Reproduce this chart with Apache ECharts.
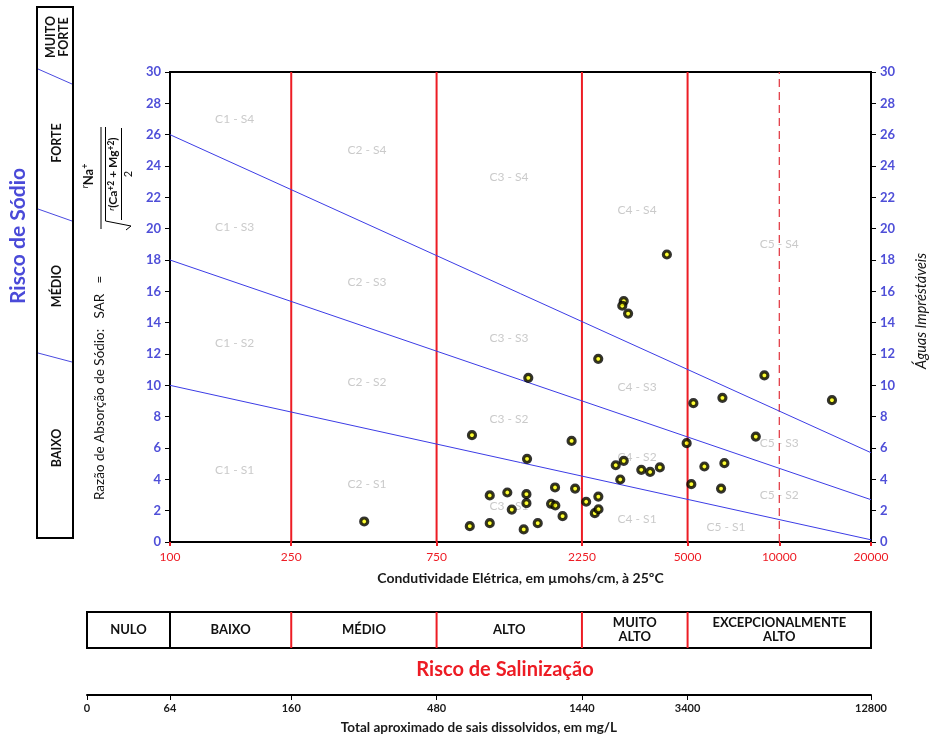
<!DOCTYPE html>
<html><head><meta charset="utf-8">
<script src="https://cdn.jsdelivr.net/npm/echarts@6/dist/echarts.min.js"></script>
<style>html,body{margin:0;padding:0;background:#fff}#c{width:931px;height:742px}</style>
</head><body><div id="c"></div>
<script>
// ---- data ----
const ecTicks = [100, 250, 750, 2250, 5000, 10000, 20000];
const salinityBounds = [250, 750, 2250, 5000];
const dashedBound = 10000;
const sarRange = [0, 30];
const sodiumLineLeft = [10, 18, 26];      // SAR at EC = 100
const sodiumLineRight = [0.14, 2.7, 5.7]; // SAR at EC = 20000
const sampleEC = [434, 964, 980, 1121, 1121, 1280, 1324, 1449, 1479, 1479, 1486, 1500, 1611, 1782, 1836, 1840, 1944, 2081, 2137, 2323, 2480, 2547, 2550, 2545, 2905, 3006, 3086, 3086, 3052, 3189, 3524, 3767, 4054, 4276, 4965, 5143, 5224, 5677, 6440, 6506, 6604, 8373, 8934, 14890];
const sampleSAR = [1.31, 1.01, 6.82, 2.97, 1.20, 3.16, 2.07, 0.80, 3.05, 2.48, 5.31, 10.48, 1.20, 2.44, 3.48, 2.33, 1.65, 6.45, 3.41, 2.57, 1.84, 2.90, 2.09, 11.69, 4.90, 3.99, 5.18, 15.38, 15.08, 14.58, 4.61, 4.47, 4.76, 18.35, 6.31, 3.69, 8.86, 4.82, 3.41, 9.20, 5.03, 6.73, 10.63, 9.05];
const zoneNames = ['C1 - S4','C1 - S3','C1 - S2','C1 - S1','C2 - S4','C2 - S3','C2 - S2','C2 - S1','C3 - S4','C3 - S3','C3 - S2','C3 - S1','C4 - S4','C4 - S3','C4 - S2','C4 - S1','C5 - S4','C5 - S3','C5 - S2','C5 - S1'];
const zoneEC  = [163, 163, 163, 163, 443, 443, 443, 443, 1297, 1297, 1297, 1297, 3413, 3413, 3413, 3413, 10000, 10000, 10000, 6683];
const zoneSAR = [26.97, 20.07, 12.67, 4.56, 24.99, 16.6, 10.22, 3.67, 23.27, 12.99, 7.82, 2.27, 21.16, 9.86, 5.39, 1.44, 18.99, 6.29, 2.97, 0.93];
const salinityClasses = ['NULO', 'BAIXO', 'MÉDIO', 'ALTO', 'MUITO\nALTO', 'EXCEPCIONALMENTE\nALTO'];
const salinityEdgesEC = [53.4, 100, 250, 750, 2250, 5000, 20000];
const tdsTicks = [0, 64, 160, 480, 1440, 3400, 12800];
const sodiumClasses = ['MUITO\nFORTE', 'FORTE', 'MÉDIO', 'BAIXO'];

// ---- build ----
const L = Math.log10;
const FONT = 'Lato';
const RED = '#ed1c24';
const BLUE = '#4f4fd8';
const chart = echarts.init(document.getElementById('c'), null, {renderer: 'canvas'});

function tickFmt(arrLog, labels) {
  return function (v) {
    let best = 0, d = 1e9;
    arrLog.forEach((a, i) => { if (Math.abs(a - v) < d) { d = Math.abs(a - v); best = i; } });
    return String(labels[best]);
  };
}
const ecLog = ecTicks.map(L);
const tdsLog = salinityEdgesEC.map(L);

const yAxisCommon = {
  type: 'value', min: sarRange[0], max: sarRange[1], interval: 2, gridIndex: 0,
  axisLine: {show: true, lineStyle: {color: '#000', width: 2}},
  axisTick: {show: true, length: 5, lineStyle: {color: '#000'}},
  axisLabel: {color: BLUE, fontWeight: 'bold', fontSize: 13, fontFamily: FONT, margin: 9},
  splitLine: {show: false}
};

const series = [];
// boundaries (red vertical)
salinityBounds.forEach(b => {
  series.push({
    type: 'line', xAxisIndex: 0, yAxisIndex: 0, silent: true, symbol: 'none', z: 2, animation: false,
    lineStyle: {color: RED, width: 2, type: 'solid'},
    data: [[L(b), sarRange[0]], [L(b), sarRange[1]]]
  });
});
series.push({
  type: 'line', xAxisIndex: 0, yAxisIndex: 0, silent: true, symbol: 'none', z: 2, animation: false,
  lineStyle: {color: '#e0303a', width: 1.2, type: [8, 5]},
  data: [[L(dashedBound), sarRange[0]], [L(dashedBound), sarRange[1]]]
});
// sodium boundary lines
sodiumLineLeft.forEach((v, i) => {
  series.push({
    type: 'line', xAxisIndex: 0, yAxisIndex: 0, silent: true, symbol: 'none', z: 3,
    lineStyle: {color: '#3c3ce6', width: 1}, animation: false,
    data: [[L(ecTicks[0]), v], [L(ecTicks[ecTicks.length - 1]), sodiumLineRight[i]]]
  });
});
// zone labels
series.push({
  type: 'scatter', xAxisIndex: 0, yAxisIndex: 0, symbolSize: 0, silent: true, z: 1,
  data: zoneNames.map((n, i) => ({name: n, value: [L(zoneEC[i]), zoneSAR[i]]})),
  label: {show: true, position: 'inside', formatter: p => p.name, color: '#bdbdbd', fontSize: 12, fontFamily: FONT}
});
// samples
series.push({
  type: 'scatter', xAxisIndex: 0, yAxisIndex: 0, symbol: 'circle', symbolSize: 7, z: 5,
  itemStyle: {color: '#ffff00', borderColor: '#000', borderWidth: 3.2},
  data: sampleEC.map((e, i) => [L(e), sampleSAR[i]])
});

chart.setOption({
  animation: false,
  backgroundColor: '#fff',
  grid: [
    {left: 170, right: 60, top: 72, bottom: 200, show: true, borderColor: '#000', borderWidth: 2, backgroundColor: 'transparent'},
    {left: 87, right: 60, top: 694, height: 1, show: false}
  ],
  xAxis: [
    {
      type: 'value', gridIndex: 0, min: L(ecTicks[0]), max: L(ecTicks[ecTicks.length - 1]),
      axisLine: {show: true, lineStyle: {color: '#000', width: 2}},
      axisTick: {show: true, customValues: ecLog, length: 4, lineStyle: {color: RED, width: 2}},
      axisLabel: {customValues: ecLog, formatter: tickFmt(ecLog, ecTicks), color: RED, fontSize: 12, fontFamily: FONT, margin: 9},
      splitLine: {show: false},
      name: 'Condutividade Elétrica, em µmohs/cm, à 25ºC', nameLocation: 'middle', nameGap: 29,
      nameTextStyle: {fontSize: 14, fontWeight: 'bold', fontFamily: FONT, color: '#1a1a1a'}
    },
    {
      type: 'value', gridIndex: 1, position: 'bottom', min: tdsLog[0], max: tdsLog[tdsLog.length - 1],
      axisLine: {show: true, lineStyle: {color: '#000', width: 2}},
      axisTick: {show: true, customValues: tdsLog, length: 5, lineStyle: {color: '#000', width: 1}},
      axisLabel: {customValues: tdsLog, formatter: tickFmt(tdsLog, tdsTicks), color: '#1a1a1a', fontWeight: 'bold', fontSize: 11, fontFamily: FONT, margin: 8},
      splitLine: {show: false},
      name: 'Total aproximado de sais dissolvidos, em mg/L', nameLocation: 'middle', nameGap: 26,
      nameTextStyle: {fontSize: 13.5, fontWeight: 'bold', fontFamily: FONT, color: '#1a1a1a'}
    }
  ],
  yAxis: [
    Object.assign({}, yAxisCommon, {position: 'left'}),
    Object.assign({}, yAxisCommon, {position: 'right'}),
    {type: 'value', gridIndex: 1, show: false, min: 0, max: 1}
  ],
  series: series
});

// ---- graphic decorations (positions derived from axes) ----
const px = v => chart.convertToPixel({xAxisIndex: 1, yAxisIndex: 2}, [L(v), 0])[0];
const g = [];
// salinity table
const tTop = 612, tBot = 648;
const edgesPx = salinityEdgesEC.map(px);
g.push({type: 'rect', shape: {x: edgesPx[0], y: tTop, width: edgesPx[6] - edgesPx[0], height: tBot - tTop}, style: {fill: 'none', stroke: '#000', lineWidth: 2}});
for (let i = 1; i < 6; i++) {
  g.push({type: 'line', shape: {x1: edgesPx[i], y1: tTop, x2: edgesPx[i], y2: tBot}, style: {stroke: i === 1 ? '#000' : RED, lineWidth: 2}});
}
salinityClasses.forEach((c, i) => {
  g.push({type: 'text', x: (edgesPx[i] + edgesPx[i + 1]) / 2, y: (tTop + tBot) / 2,
    style: {text: c, align: 'center', verticalAlign: 'middle', fontSize: 13, fontWeight: 'bold', fontFamily: FONT, fill: '#111', lineHeight: 14}});
});
g.push({type: 'text', x: 505, y: 670, style: {text: 'Risco de Salinização', align: 'center', verticalAlign: 'middle', fontSize: 20, fontWeight: 'bold', fontFamily: FONT, fill: RED}});

// sodium risk box
g.push({type: 'rect', shape: {x: 37, y: 7, width: 36, height: 531}, style: {fill: 'none', stroke: '#000', lineWidth: 2}});
[[69, 84], [209, 221], [353, 362]].forEach(d => {
  g.push({type: 'line', shape: {x1: 38, y1: d[0], x2: 72, y2: d[1]}, style: {stroke: '#4a4ae0', lineWidth: 1}});
});
const sodiumY = [37, 143, 286, 448];
sodiumClasses.forEach((c, i) => {
  g.push({type: 'text', x: 57, y: sodiumY[i], rotation: Math.PI / 2,
    style: {text: c, align: 'center', verticalAlign: 'middle', fontSize: 12.5, fontWeight: 'bold', fontFamily: FONT, fill: '#111', lineHeight: 13}});
});
g.push({type: 'text', x: 18, y: 236, rotation: Math.PI / 2,
  style: {text: 'Risco de Sódio', align: 'center', verticalAlign: 'middle', fontSize: 21, fontWeight: 'bold', fontFamily: FONT, fill: '#4a4ad8'}});

// y axis name + SAR formula
g.push({type: 'text', x: 100, y: 500, rotation: Math.PI / 2,
  style: {text: 'Razão de Absorção de Sódio:   SAR   =', align: 'left', verticalAlign: 'middle', fontSize: 13.5, fontFamily: FONT, fill: '#111'}});
g.push({type: 'line', shape: {x1: 101, y1: 127, x2: 101, y2: 229}, style: {stroke: '#000', lineWidth: 1}});
g.push({type: 'text', x: 89, y: 176, rotation: Math.PI / 2,
  style: {text: '{r|r}{b|Na}{s|+}', align: 'center', verticalAlign: 'middle',
    rich: {r: {fontSize: 9, fontStyle: 'italic', fontFamily: FONT, fill: '#111', verticalAlign: 'top', lineHeight: 16},
           b: {fontSize: 13, fontWeight: 'bold', fontFamily: FONT, fill: '#111', lineHeight: 16},
           s: {fontSize: 9, fontWeight: 'bold', fontFamily: FONT, fill: '#111', verticalAlign: 'top', lineHeight: 16}}}});
g.push({type: 'polyline', shape: {points: [[105.5, 127], [105.5, 221], [131, 226], [126, 230]]}, style: {stroke: '#000', lineWidth: 1, fill: 'none'}});
g.push({type: 'text', x: 113.5, y: 174, rotation: Math.PI / 2,
  style: {text: '{r|r}{b|(Ca}{s|+2}{b| + Mg}{s|+2}{b|)}', align: 'center', verticalAlign: 'middle',
    rich: {r: {fontSize: 8.5, fontStyle: 'italic', fontFamily: FONT, fill: '#111', verticalAlign: 'top', lineHeight: 14},
           b: {fontSize: 12, fontWeight: 'bold', fontFamily: FONT, fill: '#111', lineHeight: 14},
           s: {fontSize: 8.5, fontWeight: 'bold', fontFamily: FONT, fill: '#111', verticalAlign: 'top', lineHeight: 14}}}});
g.push({type: 'line', shape: {x1: 121.5, y1: 128, x2: 121.5, y2: 220}, style: {stroke: '#000', lineWidth: 1}});
g.push({type: 'text', x: 128, y: 174, rotation: Math.PI / 2,
  style: {text: '2', align: 'center', verticalAlign: 'middle', fontSize: 11, fontFamily: FONT, fill: '#111'}});

// right axis title
g.push({type: 'text', x: 921, y: 311, rotation: Math.PI / 2,
  style: {text: 'Águas Impréstáveis', align: 'center', verticalAlign: 'middle', fontSize: 14.5, fontStyle: 'italic', fontFamily: FONT, fill: '#151515'}});

chart.setOption({graphic: {elements: g}});
</script>
</body></html>
